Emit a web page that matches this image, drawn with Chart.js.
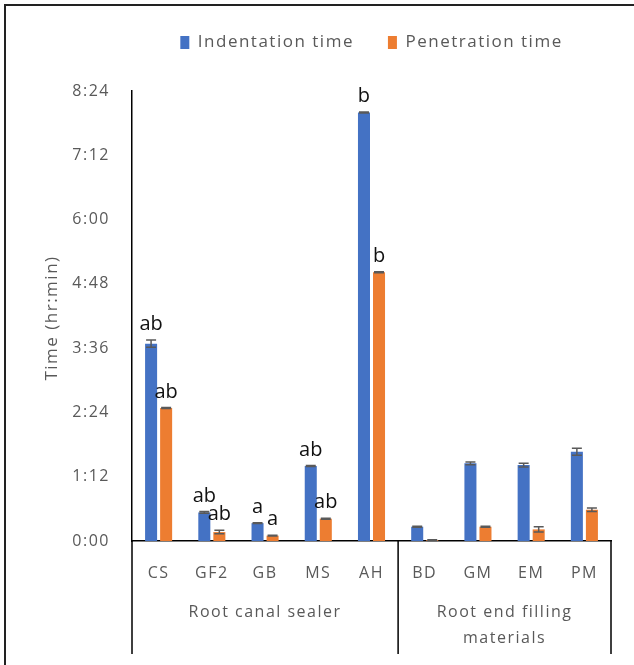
<!DOCTYPE html>
<html>
<head>
<meta charset="utf-8">
<script src="https://cdn.jsdelivr.net/npm/chart.js@4.4.1/dist/chart.umd.min.js"></script>
<style>
  html, body { margin: 0; padding: 0; background: #fff; }
  canvas { display: block; }
</style>
</head>
<body>
<canvas id="timeChart" width="634" height="665"></canvas>
<script>
// ── DATA (minutes) ─────────────────────────────
const categories = ["CS", "GF2", "GB", "MS", "AH", "BD", "GM", "EM", "PM"];
const indentation = [221, 32, 20, 84, 480, 16, 87, 85, 100];
const indentationErr = [4, 1, 0.5, 0.5, 0.5, 0.5, 1.5, 2, 4];
const penetration = [149, 10, 6, 25, 301, 1, 16, 13, 35];
const penetrationErr = [0.5, 2, 0.5, 0.5, 0.5, 0.5, 0.5, 3, 2];
const indentationLetters = ["ab", "ab", "a", "ab", "b", "", "", "", ""];
const penetrationLetters = ["ab", "ab", "a", "ab", "b", "", "", "", ""];
const groupNames = [["Root canal sealer"], ["Root end filling", "materials"]];
const groupStarts = [0, 5];
const yMax = 504;
const yStep = 72;

const GREY = "#595959";
const FONT = "'Open Sans', 'Noto Sans', sans-serif";

function fmtTime(v) {
  const h = Math.floor(v / 60);
  const m = Math.round(v % 60);
  return h + ":" + String(m).padStart(2, "0");
}

// ── EXTRAS: frame, error bars, letters, group axis ─────
const extrasPlugin = {
  id: "extras",
  beforeUpdate(chart) {
    chart.ctx.letterSpacing = "1.5px";
  },
  beforeDraw(chart) {
    const ctx = chart.ctx;
    ctx.save();
    ctx.strokeStyle = "#222";
    ctx.lineWidth = 2;
    ctx.beginPath();
    ctx.moveTo(5, 665);
    ctx.lineTo(5, 5);
    ctx.lineTo(634, 5);
    ctx.stroke();
    ctx.restore();
  },
  afterDatasetsDraw(chart) {
    const ctx = chart.ctx;
    const y = chart.scales.y;
    const errs = [indentationErr, penetrationErr];
    const letters = [indentationLetters, penetrationLetters];
    ctx.save();
    chart.data.datasets.forEach((ds, di) => {
      const meta = chart.getDatasetMeta(di);
      meta.data.forEach((bar, i) => {
        const v = ds.data[i];
        const e = errs[di][i];
        const yTop = y.getPixelForValue(v + e);
        const yBot = y.getPixelForValue(v - e);
        ctx.strokeStyle = GREY;
        ctx.lineWidth = 1.5;
        ctx.beginPath();
        ctx.moveTo(bar.x, yTop);
        ctx.lineTo(bar.x, yBot);
        ctx.moveTo(bar.x - 5, yTop);
        ctx.lineTo(bar.x + 5, yTop);
        ctx.moveTo(bar.x - 5, yBot);
        ctx.lineTo(bar.x + 5, yBot);
        ctx.stroke();

        const txt = letters[di][i];
        if (txt) {
          ctx.letterSpacing = "0px";
          ctx.fillStyle = "#111";
          ctx.font = "20px " + FONT;
          ctx.textAlign = "center";
          ctx.textBaseline = "alphabetic";
          ctx.fillText(txt, bar.x, yTop - 10);
        }
      });
    });
    ctx.restore();
  },
  afterDraw(chart) {
    const ctx = chart.ctx;
    const area = chart.chartArea;
    const x = chart.scales.x;
    const bottom = 654;
    const step = x.getPixelForValue(1) - x.getPixelForValue(0);
    const bounds = [area.left, x.getPixelForValue(groupStarts[1]) - step / 2, area.right];

    ctx.save();
    ctx.strokeStyle = "#000";
    ctx.lineWidth = 1.5;
    ctx.beginPath();
    bounds.forEach(b => {
      ctx.moveTo(b, area.bottom);
      ctx.lineTo(b, bottom);
    });
    ctx.stroke();

    ctx.fillStyle = GREY;
    ctx.font = "16px " + FONT;
    ctx.textAlign = "center";
    ctx.textBaseline = "middle";
    groupNames.forEach((lines, g) => {
      const cx = (bounds[g] + bounds[g + 1]) / 2;
      lines.forEach((ln, k) => ctx.fillText(ln, cx, 612 + k * 26));
    });

    // y axis title
    ctx.font = "17px " + FONT;
    ctx.translate(52, (area.top + area.bottom) / 2 + 2);
    ctx.rotate(-Math.PI / 2);
    ctx.fillText("Time (hr:min)", 0, 0);
    ctx.restore();
  }
};

new Chart(document.getElementById("timeChart").getContext("2d"), {
  type: "bar",
  data: {
    labels: categories,
    datasets: [
      {
        label: "Indentation time",
        data: indentation,
        backgroundColor: "#4472C4",
        categoryPercentage: 0.565,
        barPercentage: 0.8
      },
      {
        label: "Penetration time",
        data: penetration,
        backgroundColor: "#ED7D31",
        categoryPercentage: 0.565,
        barPercentage: 0.8
      }
    ]
  },
  options: {
    responsive: false,
    animation: false,
    layout: { padding: { top: 0, right: 23, bottom: 0, left: 0 } },
    plugins: {
      legend: {
        position: "top",
        fullSize: false,
        weight: 3000,
        labels: {
          boxWidth: 9,
          boxHeight: 13,
          padding: 34,
          color: GREY,
          font: { family: FONT, size: 17 }
        }
      },
      title: {
        display: true,
        text: "",
        weight: 2000,
        font: { size: 10, lineHeight: 1.2 },
        padding: { top: 0, bottom: 18 }
      },
      tooltip: { enabled: false }
    },
    scales: {
      x: {
        grid: { display: false, drawTicks: false },
        border: { display: true, color: "#000", width: 1.5 },
        ticks: { color: GREY, padding: 23, font: { family: FONT, size: 16 } },
        afterFit(scale) { scale.height = 124; }
      },
      y: {
        min: 0,
        max: yMax,
        grid: { display: false, drawTicks: false },
        border: { display: true, color: "#000", width: 1.5 },
        ticks: {
          stepSize: yStep,
          color: GREY,
          padding: 22,
          font: { family: FONT, size: 16 },
          callback: v => fmtTime(v)
        },
        afterFit(scale) { scale.width = 132; }
      }
    }
  },
  plugins: [extrasPlugin]
});
</script>
</body>
</html>
